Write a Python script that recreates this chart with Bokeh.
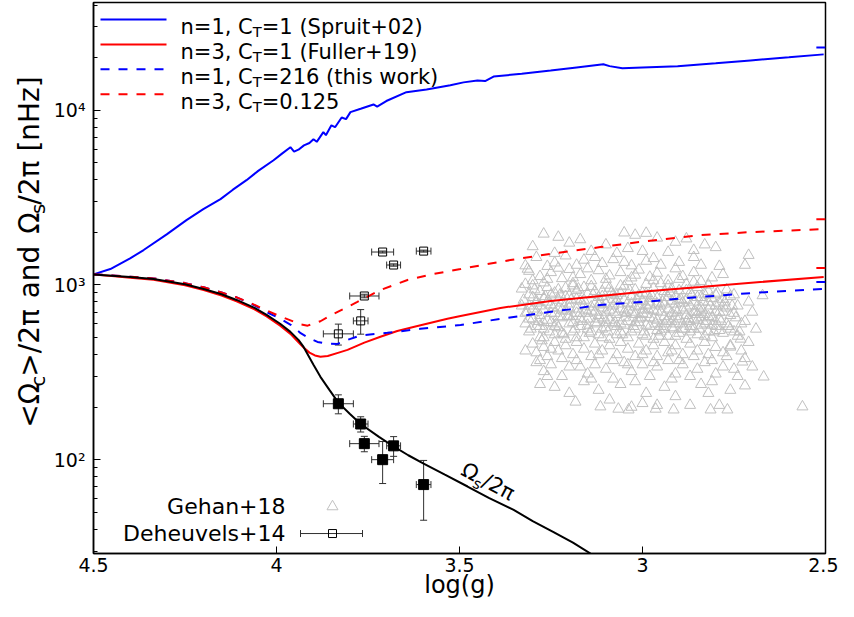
import math
from bokeh.plotting import figure
from bokeh.layouts import row
from bokeh.models import Range1d, FixedTicker, Label, Whisker, TeeHead, ColumnDataSource
from bokeh.embed import file_html
from bokeh.resources import INLINE

# ---------------- axis limits and ticks ----------------
X_START, X_END = 4.5, 2.5
Y_BOTTOM, Y_TOP = 29.03, 41410.0
x_ticks = [4.5, 4.0, 3.5, 3.0, 2.5]
x_tick_labels = ["4.5", "4", "3.5", "3", "2.5"]
y_ticks = [100, 1000, 10000]
y_tick_labels = ["10\u00b2", "10\u00b3", "10\u2074"]
y_minor = [30, 40, 50, 60, 70, 80, 90, 200, 300, 400, 500, 600, 700, 800, 900,
           2000, 3000, 4000, 5000, 6000, 7000, 8000, 9000, 20000, 30000, 40000]

# ---------------- model curves ----------------
spruit_logg = [4.5, 4.454, 4.40, 4.363, 4.30, 4.246, 4.20, 4.153, 4.12, 4.082, 4.05, 4.008, 3.985, 3.962,
               3.952, 3.94, 3.925, 3.91, 3.899, 3.89, 3.872, 3.865, 3.85, 3.84, 3.822, 3.81, 3.798, 3.77,
               3.735, 3.725, 3.70, 3.645, 3.59, 3.525, 3.489, 3.451, 3.43, 3.407, 3.33, 3.251, 3.18, 3.107,
               3.09, 3.055, 3.0, 2.904, 2.80, 2.705, 2.60, 2.505]
spruit_omega = [1150, 1234, 1420, 1585, 1950, 2353, 2720, 3100, 3500, 3981, 4500, 5180, 5650, 6150,
                5800, 5950, 6300, 6500, 6830, 6600, 7500, 7200, 8200, 8000, 9100, 8900, 9760, 10200,
                10800, 10500, 11300, 12700, 13150, 13900, 14450, 14800, 14700, 15600, 16200, 16900, 17600, 18360,
                17900, 17400, 17600, 17900, 18600, 19300, 20100, 20900]

fuller_logg = [4.5, 4.45, 4.4, 4.336, 4.25, 4.199, 4.15, 4.109, 4.06, 4.027, 3.99, 3.962, 3.94, 3.926,
               3.91, 3.895, 3.88, 3.86, 3.83, 3.806, 3.76, 3.716, 3.67, 3.626, 3.533, 3.497, 3.388, 3.251,
               3.115, 2.978, 2.842, 2.678, 2.505]
fuller_omega = [1150, 1125, 1100, 1070, 995, 935, 870, 805, 725, 660, 585, 525, 470, 438,
                410, 395, 388, 392, 410, 425, 468, 505, 545, 575, 640, 665, 739, 810,
                865, 924, 974, 1040, 1111]

thiswork_logg = [4.5, 4.45, 4.4, 4.336, 4.25, 4.199, 4.15, 4.109, 4.063, 4.027, 3.989, 3.96, 3.934, 3.91,
                 3.888, 3.86, 3.833, 3.80, 3.77, 3.697, 3.607, 3.497, 3.42, 3.352, 3.279, 3.2, 3.115, 3.0,
                 2.842, 2.7, 2.505]
thiswork_omega = [1150, 1135, 1115, 1090, 1025, 970, 905, 850, 770, 700, 640, 590, 530, 495,
                  472, 462, 460, 490, 515, 532, 561, 590, 625, 656, 690, 725, 769, 800,
                  854, 900, 949]

ct0125_logg = [4.5, 4.45, 4.4, 4.336, 4.25, 4.199, 4.15, 4.109, 4.063, 4.027, 3.989, 3.96, 3.935, 3.915,
               3.88, 3.852, 3.779, 3.716, 3.642, 3.571, 3.497, 3.43, 3.361, 3.25, 3.115, 3.0, 2.842, 2.7, 2.505]
ct0125_omega = [1150, 1135, 1115, 1090, 1025, 970, 905, 850, 775, 715, 660, 625, 595, 585,
                620, 670, 800, 936, 1068, 1156, 1234, 1310, 1389, 1510, 1648, 1770, 1930, 2010, 2088]

omegas_logg = [4.5, 4.45, 4.4, 4.336, 4.25, 4.199, 4.15, 4.109, 4.06, 4.027, 3.99, 3.962, 3.94, 3.926,
               3.899, 3.88, 3.855, 3.831, 3.80, 3.77, 3.72, 3.68, 3.64, 3.598, 3.54, 3.478, 3.42, 3.352,
               3.30, 3.243, 3.19, 3.142, 3.10]
omegas_omega = [1150, 1130, 1110, 1082, 1010, 949, 885, 821, 740, 674, 600, 539, 485, 442,
                349, 298, 250, 212, 183, 160, 135, 119, 106, 95, 82, 70.2, 60.5, 51.6,
                44.5, 38.5, 33.5, 29.0, 26.5]

# short stubs of further tracks at the right edge
tail_logg = [2.525, 2.5]
tail_spruit = [22900, 22900]
tail_fuller = [1250, 1250]
tail_thiswork = [1040, 1040]
tail_ct0125 = [2380, 2380]

# ---------------- Deheuvels+14 ----------------
deh_logg = [3.710, 3.598, 3.680, 3.760, 3.770, 3.831]
deh_logg_err = [0.030, 0.020, 0.019, 0.040, 0.020, 0.041]
deh_env = [1544, 1563, 1301, 865, 623, 525]          # open squares
deh_env_err = [20, 20, 20, 20, 100, 72]
deh_core = [100, 72, 120, 123.5, 160, 209]            # filled squares
deh_core_err = [27, 27, 15.5, 12.5, 16, 26]

# ---------------- Gehan+18 ----------------
gehan_pts = [
    (3.27, 1960), (3.23, 1880), (3.05, 1990), (3.02, 1930), (2.99, 1980), (2.96, 1860), (3.17, 1820), (2.88, 1840),
    (3.30, 1660), (3.20, 1740), (3.10, 1700), (3.04, 1620), (2.91, 1760), (2.83, 1700), (2.86, 1580), (2.80, 1640),
    (2.93, 1540), (3.00, 1560), (3.14, 1560), (3.24, 1520), (3.07, 1520), (2.71, 1480),
    (3.29, 1440), (3.21, 1470), (3.13, 1440), (3.08, 1400), (2.97, 1420), (2.86, 1440), (3.24, 1340), (2.90, 1350),
    (3.18, 1300), (3.26, 1280), (3.11, 1330), (3.03, 1290), (2.95, 1300), (2.84, 1300), (2.99, 1370), (3.16, 1390),
    (2.72, 1300), (2.79, 1280), (3.32, 1290), (3.05, 1350), (3.314, 1234),
    (3.31, 1200), (3.28, 1120), (3.25, 1180), (3.22, 1090), (3.20, 1230), (3.17, 1150), (3.14, 1060), (3.12, 1210),
    (3.09, 1130), (3.06, 1180), (3.04, 1050), (3.01, 1220), (2.98, 1110), (2.96, 1170), (2.93, 1060), (2.91, 1240),
    (2.89, 1120), (2.86, 1180), (2.84, 1050), (2.81, 1100), (3.27, 1030), (3.19, 1020), (3.10, 1000), (2.99, 1010),
    (2.88, 1010), (3.30, 1060), (3.15, 1240), (3.02, 1140), (2.95, 1020), (2.78, 1150), (3.23, 1250),
    (3.33, 950), (3.31, 880), (3.30, 990), (3.28, 920), (3.27, 840), (3.26, 970), (3.24, 900), (3.23, 820),
    (3.21, 960), (3.20, 870), (3.18, 930), (3.17, 810), (3.15, 890), (3.14, 980), (3.12, 850), (3.11, 920),
    (3.09, 960), (3.08, 830), (3.06, 900), (3.05, 980), (3.03, 860), (3.02, 940), (3.00, 810), (2.99, 890),
    (2.97, 960), (2.96, 840), (2.94, 920), (2.93, 990), (2.91, 860), (2.90, 930), (2.88, 820), (2.87, 900),
    (2.85, 970), (2.84, 850), (2.82, 920), (2.80, 880), (2.78, 830), (2.76, 860), (3.29, 810), (3.19, 990),
    (3.07, 810), (2.98, 800), (2.92, 810), (2.86, 800), (2.672, 870),
    (3.33, 760), (3.32, 690), (3.31, 640), (3.30, 730), (3.29, 790), (3.28, 670), (3.27, 720), (3.26, 630),
    (3.25, 770), (3.24, 690), (3.23, 740), (3.22, 650), (3.21, 710), (3.20, 780), (3.19, 660), (3.18, 730),
    (3.17, 690), (3.16, 760), (3.15, 640), (3.14, 710), (3.13, 780), (3.12, 670), (3.11, 740), (3.10, 700),
    (3.09, 630), (3.08, 760), (3.07, 680), (3.06, 730), (3.05, 650), (3.04, 790), (3.03, 700), (3.02, 750),
    (3.01, 640), (3.00, 720), (2.99, 680), (2.98, 770), (2.97, 640), (2.96, 710), (2.95, 760), (2.94, 660),
    (2.93, 730), (2.92, 690), (2.91, 780), (2.90, 640), (2.89, 720), (2.88, 670), (2.87, 760), (2.86, 700),
    (2.85, 630), (2.84, 740), (2.83, 680), (2.82, 720), (2.81, 650), (2.79, 700), (2.77, 740), (2.75, 690),
    (3.32, 600), (3.31, 540), (3.29, 580), (3.28, 500), (3.27, 560), (3.25, 610), (3.24, 520), (3.23, 570),
    (3.21, 490), (3.20, 600), (3.19, 540), (3.17, 580), (3.16, 500), (3.15, 560), (3.13, 610), (3.12, 520),
    (3.10, 570), (3.09, 490), (3.08, 600), (3.06, 540), (3.05, 590), (3.04, 500), (3.02, 560), (3.01, 610),
    (3.00, 520), (2.98, 580), (2.97, 490), (2.96, 550), (2.94, 600), (2.93, 510), (2.92, 570), (2.90, 530),
    (2.89, 600), (2.88, 490), (2.86, 560), (2.85, 520), (2.84, 590), (2.82, 540), (2.81, 500), (2.80, 580),
    (2.78, 530), (2.76, 560), (2.74, 510), (2.73, 600), (2.732, 491),
    (3.30, 460), (3.29, 410), (3.27, 440), (3.26, 390), (3.24, 470), (3.23, 420), (3.21, 450), (3.19, 400),
    (3.18, 470), (3.16, 430), (3.14, 390), (3.13, 460), (3.11, 420), (3.09, 450), (3.07, 400), (3.06, 470),
    (3.04, 430), (3.02, 390), (3.01, 460), (2.99, 420), (2.97, 450), (2.96, 390), (2.94, 470), (2.92, 420),
    (2.91, 450), (2.89, 400), (2.87, 460), (2.85, 420), (2.83, 470), (2.82, 400), (2.80, 440), (2.78, 410),
    (2.76, 450), (2.73, 420), (2.71, 470), (2.760, 442),
    (3.29, 360), (3.27, 320), (3.25, 350), (3.22, 300), (3.20, 340), (3.18, 370), (3.15, 310), (3.13, 350),
    (3.10, 330), (3.08, 290), (3.05, 360), (3.03, 320), (3.00, 350), (2.98, 300), (2.96, 340), (2.93, 370),
    (2.91, 310), (2.89, 350), (2.87, 300), (2.85, 330), (2.83, 360), (2.80, 310), (2.78, 340), (2.74, 300),
    (2.70, 340), (2.727, 363), (2.669, 298),
    (3.28, 270), (3.24, 260), (3.20, 240), (3.16, 280), (3.12, 250), (3.09, 220), (3.06, 270), (3.03, 200),
    (2.99, 240), (2.96, 205), (2.94, 260), (2.91, 230), (2.87, 205), (2.84, 270), (2.82, 240), (2.79, 205),
    (2.76, 250), (3.00, 210), (2.72, 265), (2.563, 201), (3.183, 214), (3.115, 201), (3.066, 195), (3.038, 193),
    (2.964, 195), (2.915, 193), (2.814, 193), (2.768, 193),
    # denser core
    (3.325, 820), (3.315, 700), (3.305, 560), (3.295, 940), (3.285, 620), (3.275, 480), (3.265, 860), (3.255, 540),
    (3.245, 740), (3.235, 600), (3.225, 880), (3.215, 520), (3.205, 660), (3.195, 820), (3.185, 560), (3.175, 950),
    (3.165, 620), (3.155, 720), (3.145, 530), (3.135, 880), (3.125, 600), (3.115, 790), (3.105, 650), (3.095, 540),
    (3.085, 900), (3.075, 610), (3.065, 780), (3.055, 520), (3.045, 690), (3.035, 930), (3.025, 580), (3.015, 820),
    (3.005, 650), (2.995, 540), (2.985, 730), (2.975, 870), (2.965, 600), (2.955, 510), (2.945, 800), (2.935, 620),
    (2.925, 900), (2.915, 560), (2.905, 700), (2.895, 830), (2.885, 560), (2.875, 640), (2.865, 880), (2.855, 700),
    (2.845, 560), (2.835, 800), (2.825, 620), (2.815, 760), (2.805, 540), (2.795, 900), (2.785, 620), (2.775, 800),
    (2.765, 580), (2.755, 760), (2.745, 650), (2.735, 540),
    (3.32, 1010), (3.30, 850), (3.28, 760), (3.26, 1080), (3.25, 690), (3.23, 940), (3.22, 790), (3.20, 660),
    (3.19, 1100), (3.18, 830), (3.16, 970), (3.15, 690), (3.13, 920), (3.12, 770), (3.11, 560), (3.10, 1080),
    (3.08, 880), (3.07, 580), (3.06, 990), (3.05, 820), (3.04, 620), (3.03, 1100), (3.02, 680), (3.00, 900),
    (2.99, 760), (2.98, 650), (2.97, 1060), (2.96, 780), (2.95, 580), (2.94, 850), (2.93, 640), (2.92, 950),
    (2.91, 600), (2.90, 1080), (2.89, 790), (2.88, 930), (2.87, 620), (2.86, 1040), (2.85, 760), (2.84, 650),
    (2.83, 880), (2.82, 1000), (2.81, 840), (2.80, 700), (2.79, 790), (2.77, 940), (2.76, 670), (2.75, 880),
    (2.74, 760), (2.72, 620), (2.71, 800), (2.70, 700), (2.69, 560),
    (3.32, 420), (3.28, 370), (3.25, 430), (3.22, 380), (3.17, 340), (3.12, 400), (3.08, 370), (3.04, 350),
    (3.00, 400), (2.97, 360), (2.93, 410), (2.90, 370), (2.86, 390), (2.81, 370), (2.77, 390), (2.72, 380),
    (3.26, 300), (3.14, 290), (3.02, 280), (2.92, 290), (2.81, 280), (2.75, 330),
    (3.31, 760), (3.29, 700), (3.27, 610), (3.26, 800), (3.24, 580), (3.22, 720), (3.21, 860), (3.19, 610),
    (3.18, 690), (3.16, 820), (3.15, 590), (3.14, 750), (3.12, 640), (3.11, 860), (3.10, 610), (3.09, 720),
    (3.07, 870), (3.06, 600), (3.05, 700), (3.03, 780), (3.02, 610), (3.01, 870), (3.00, 690), (2.99, 590),
    (2.98, 840), (2.96, 630), (2.95, 700), (2.94, 560), (2.93, 850), (2.92, 620), (2.91, 720), (2.90, 820),
    (2.89, 560), (2.88, 740), (2.87, 580), (2.86, 640), (2.85, 850), (2.84, 700), (2.83, 600), (2.82, 800),
    (2.81, 590), (2.80, 760), (2.79, 640), (2.78, 700), (2.77, 600),
    (3.30, 640), (3.28, 580), (3.25, 880), (3.23, 660), (3.20, 740), (3.17, 640), (3.13, 700), (3.10, 780),
    (3.08, 700), (3.04, 720), (3.01, 760), (2.97, 720), (2.94, 780), (2.91, 660), (2.88, 620), (2.85, 680),
    (2.82, 660), (2.80, 620), (2.78, 760),
    (3.27, 500), (3.22, 530), (3.18, 500), (3.14, 540), (3.11, 500), (3.07, 520), (3.03, 540), (2.99, 510),
    (2.95, 540), (2.91, 510), (2.87, 540), (2.83, 510), (2.79, 550), (2.75, 540),
]
gehan_logg = [a for a, b in gehan_pts]
gehan_omega = [b for a, b in gehan_pts]

# ---------------- layout helpers ----------------
FONT = "DejaVu Sans"
REF_LEFT, REF_TOP = 93.0, 288.0   # reference pixel of logg=4.5 / Omega=1000
def xd(px):
    return X_START - (px - REF_LEFT) / 366.0
def yd(py):
    return 10 ** (3.0 - (py - REF_TOP) / 175.0)
def ident(v):
    return v

W = {' ': 651, '(': 799, ')': 799, '+': 1716, ',': 651, '.': 651, '/': 690, '<': 1716, '=': 1716, '>': 1716,
     'C': 1430, 'F': 1178, 'S': 1300, 'T': 1251, '[': 799, ']': 799, 'H': 1540, 'a': 1255, 'c': 1126,
     'd': 1300, 'e': 1260, 'h': 1298, 'i': 569, 'k': 1186, 'l': 569, 'n': 1298, 'o': 1253, 'p': 1300,
     'r': 842, 's': 1067, 't': 803, 'u': 1298, 'w': 1675, 'z': 1075, '\u03a9': 1577, '\u03c0': 1233}
for d in "0123456789":
    W[d] = 1303

def tw(s, size):
    return sum(W.get(c, 1250) for c in s) * size / 2048.0

def runs_length(runs, size):
    return sum(tw(t, size * 0.7 if sub else size) for t, sub in runs)

def place_runs(fig, runs, px, py, size, angle_deg, tx, ty, color="black"):
    """Place text runs (normal / subscript) along a baseline starting at page pixel (px, py)."""
    th = math.radians(angle_deg)
    ux, uy = math.cos(th), -math.sin(th)      # along the baseline
    vx, vy = math.sin(th), math.cos(th)       # towards the text's "down"
    rotated = abs(angle_deg) > 0.01
    pos = 0.0
    for text, sub in runs:
        s = size * 0.7 if sub else size
        lead = len(text) - len(text.lstrip(" "))
        pos += lead * W[" "] * s / 2048.0
        core = text.strip(" ")
        off = 0.22 * size if sub else 0.0
        if rotated:
            off -= 0.35 * s   # rotated labels are anchored nearer the middle of the glyphs
        sx = px + ux * pos + vx * off
        sy = py + uy * pos + vy * off
        fig.add_layout(Label(x=tx(sx), y=ty(sy), text=core, angle=th, text_font=FONT,
                             text_font_size=f"{s:.1f}px", text_align="left", text_baseline="alphabetic",
                             text_color=color))
        pos += tw(core, s)
        trail = len(text) - len(text.rstrip(" "))
        pos += trail * W[" "] * s / 2048.0

# ---------------- figures ----------------
TOTAL_W, TOTAL_H = 838, 601
YLAB_W = 50
p = figure(width=TOTAL_W - YLAB_W, height=TOTAL_H, x_range=Range1d(X_START, X_END),
           y_range=Range1d(Y_BOTTOM, Y_TOP), y_axis_type="log", output_backend="svg",
           toolbar_location=None, min_border_left=int(REF_LEFT) - YLAB_W, min_border_right=13,
           min_border_top=2, min_border_bottom=48)
p.grid.visible = False
p.background_fill_color = "white"
p.border_fill_color = "white"
p.outline_line_color = "black"
p.outline_line_width = 1.5
p.outline_line_alpha = 1.0

# axes
p.xaxis.ticker = FixedTicker(ticks=x_ticks, minor_ticks=[])
p.xaxis.major_label_overrides = dict(zip(x_ticks, x_tick_labels))
p.yaxis.ticker = FixedTicker(ticks=y_ticks, minor_ticks=y_minor)
p.yaxis.major_label_overrides = dict(zip(y_ticks, y_tick_labels))
for ax in (p.xaxis[0], p.yaxis[0]):
    ax.major_tick_in = 7
    ax.major_tick_out = 0
    ax.minor_tick_in = 4
    ax.minor_tick_out = 0
    ax.major_tick_line_color = "black"
    ax.minor_tick_line_color = "black"
    ax.axis_line_color = "black"
    ax.axis_line_width = 1.5
    ax.major_label_text_font = FONT
    ax.major_label_text_font_size = "19px"
    ax.major_label_text_color = "black"
p.xaxis.major_label_standoff = 4
p.yaxis.major_label_standoff = 8
p.xaxis.axis_label = "log(g)"
p.xaxis.axis_label_text_font = FONT
p.xaxis.axis_label_text_font_size = "24px"
p.xaxis.axis_label_text_font_style = "normal"
p.xaxis.axis_label_text_color = "black"
p.xaxis.axis_label_standoff = -4

# Gehan cloud
p.scatter(gehan_logg, gehan_omega, marker="triangle", size=11, fill_color=None,
          line_color="#c0c0c0", line_width=1)

# curves
BLUE, RED = "#0000ff", "#ff0000"
DASH = "9 9"
p.line(spruit_logg, spruit_omega, color=BLUE, line_width=2)
p.line(fuller_logg, fuller_omega, color=RED, line_width=2)
p.line(thiswork_logg, thiswork_omega, color=BLUE, line_width=2, line_dash=DASH)
p.line(ct0125_logg, ct0125_omega, color=RED, line_width=2, line_dash=DASH)
p.line(omegas_logg, omegas_omega, color="black", line_width=2)
p.line(tail_logg, tail_spruit, color=BLUE, line_width=2)
p.line(tail_logg, tail_fuller, color=RED, line_width=2)
p.line(tail_logg, tail_thiswork, color=BLUE, line_width=2)
p.line(tail_logg, tail_ct0125, color=RED, line_width=2)

# Deheuvels points with error bars
ERR = "#303030"
def tee():
    return TeeHead(size=7, line_color=ERR, line_width=1)

def add_err(xs, ys, xe, ye):
    src = ColumnDataSource(dict(x=xs, y=ys,
                                xl=[a - e for a, e in zip(xs, xe)], xu=[a + e for a, e in zip(xs, xe)],
                                yl=[b - e for b, e in zip(ys, ye)], yu=[b + e for b, e in zip(ys, ye)]))
    p.add_layout(Whisker(source=src, base="y", lower="xl", upper="xu", dimension="width",
                         line_color=ERR, line_width=1, upper_head=tee(), lower_head=tee()))
    p.add_layout(Whisker(source=src, base="x", lower="yl", upper="yu", dimension="height",
                         line_color=ERR, line_width=1, upper_head=tee(), lower_head=tee()))

add_err(deh_logg, deh_env, deh_logg_err, deh_env_err)
add_err(deh_logg, deh_core, deh_logg_err, deh_core_err)
p.scatter(deh_logg, deh_env, marker="square", size=8, fill_color=None, line_color="black", line_width=1)
p.scatter(deh_logg, deh_core, marker="square", size=10, fill_color="black", line_color="black")

# ---------------- top legend ----------------
leg_rows = [
    (BLUE, None, "n=1, C", "=1 (Spruit+02)"),
    (RED, None, "n=3, C", "=1 (Fuller+19)"),
    (BLUE, DASH, "n=1, C", "=216 (this work)"),
    (RED, DASH, "n=3, C", "=0.125"),
]
LEG_SIZE = 21
for i, (col, dash, t1, t2) in enumerate(leg_rows):
    cy = 22 + 25 * i
    kw = dict(color=col, line_width=2)
    if dash:
        kw["line_dash"] = dash
    p.line([xd(100), xd(166)], [yd(cy), yd(cy)], **kw)
    place_runs(p, [(t1, False), ("T", True), (t2, False)], 180, cy + 7.5, LEG_SIZE, 0, xd, yd)

# ---------------- bottom legend ----------------
p.add_layout(Label(x=xd(285), y=yd(510), text="Gehan+18", text_font=FONT, text_font_size="22px",
                   text_align="right", text_baseline="middle", text_color="black"))
p.add_layout(Label(x=xd(285), y=yd(537), text="Deheuvels+14", text_font=FONT, text_font_size="22px",
                   text_align="right", text_baseline="middle", text_color="black"))
p.scatter([xd(332)], [yd(510)], marker="triangle", size=11, fill_color=None, line_color="#c0c0c0", line_width=1)
leg_src = ColumnDataSource(dict(y=[yd(537)], xl=[xd(300)], xu=[xd(362)]))
p.add_layout(Whisker(source=leg_src, base="y", lower="xl", upper="xu", dimension="width",
                     line_color=ERR, line_width=1, upper_head=tee(), lower_head=tee()))
p.scatter([xd(332)], [yd(537)], marker="square", size=8, fill_color=None, line_color="black", line_width=1)

# ---------------- curve label ----------------
place_runs(p, [("\u03a9", False), ("s", True), ("/2\u03c0", False)], 459, 478, 21, -28, xd, yd)

# ---------------- y-axis title (own strip so subscripts stay real text) ----------------
ylab_fig = figure(width=YLAB_W, height=TOTAL_H, x_range=Range1d(0, YLAB_W), y_range=Range1d(TOTAL_H, 0),
                  output_backend="svg", toolbar_location=None, x_axis_location=None, y_axis_location=None,
                  min_border=0)
ylab_fig.grid.visible = False
ylab_fig.outline_line_color = None
ylab_fig.background_fill_color = "white"
ylab_fig.border_fill_color = "white"
YL_SIZE = 28
ylab = [("<\u03a9", False), ("c", True), (">/2\u03c0  ", False), ("and  ", False),
        ("\u03a9", False), ("s", True), ("/2\u03c0 [nHz]", False)]
L = runs_length(ylab, YL_SIZE)
place_runs(ylab_fig, ylab, 38.5, 278 + L / 2.0, YL_SIZE, 90, ident, ident)

layout = row(ylab_fig, p)
open("out.html", "w").write(file_html(layout, INLINE))
